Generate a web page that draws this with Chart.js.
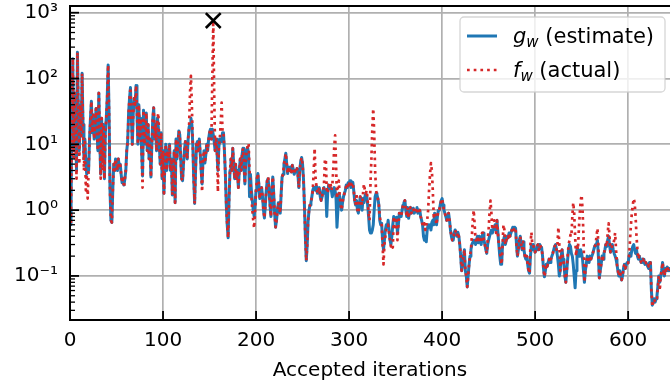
<!DOCTYPE html>
<html>
<head>
<meta charset="utf-8">
<script src="https://cdn.jsdelivr.net/npm/chart.js@4/dist/chart.umd.min.js"></script>
<style>
  html, body { margin: 0; padding: 0; background: #ffffff; }
  #wrap { width: 670px; height: 387px; }
</style>
</head>
<body>
<div id="wrap"><canvas id="chart" width="670" height="387"></canvas></div>
<script>
// Objective per accepted iteration (index = iteration number)
const estimate = [
  15,0.6,40,200,8,60,20,4,250,30,
  8,40,15,120,20,6,12,5,3.5,6,
  4,12,25,45,15,28,12,20,35,15,
  8,60,12,3.5,25,6,20,3,15,25,
  50,160,30,2,0.7,0.65,2,5,4,6,
  5,4,6,4.5,5,3.5,2.6,3,2.4,3,
  4,8,11,30,50,73,25,10,30,50,
  40,78,30,10,40,12,25,8,3.3,33,
  10,16,30,8,20,6,12,3.2,10,25,
  36,12,20,8,25,18,10,5,15,3,
  8,1.8,5,10,4,8,6,10,4,6,
  1.7,4,8,1.3,12,6,10,16,14,6,
  3,2.8,5,8,11,9,6,12,18,20,
  25,20,10,3,1.26,4,10,11,8,12,
  7.3,4,2.5,6,8,5.2,7,10,8,12,
  15,17,12,17,14,11,8,12,8,4,
  9,12,11,11,15,15,8,3.6,1.2,0.6,
  0.38,1.5,4,6,4,8.7,5,3,5,3,
  4,2.2,4,6,4,7,8.7,5,2.5,6,
  8,9,7,1.6,3.5,2,1.4,1.0,0.8,1.2,
  2.0,3.0,3.6,2.5,1.5,1.8,2.2,1.6,1.0,0.76,
  1.2,2.0,2.8,3.0,2.0,1.2,0.8,2.0,3.2,1.8,
  0.9,0.55,0.7,1.0,1.3,1.1,0.9,1.8,3.2,3.5,
  5,6,7.3,5,3.6,4.5,4,4.5,3.8,4.8,
  4.2,3.5,4,3.8,4.3,3.5,2.2,4,5.5,6.3,
  5,3,1.2,0.4,0.17,0.3,0.7,1.0,1.2,1.3,
  1.6,2.0,2.2,2.2,2.0,2.3,1.8,2.0,2.2,1.6,
  1.4,1.6,2.0,2.2,1.8,2.0,0.8,1.8,2.4,2.3,
  2.2,2.0,1.6,2.0,2.2,2.0,1.5,0.55,1.0,1.8,
  1.6,1.2,1.0,1.3,1.6,1.8,2.0,2.4,2.2,2.6,
  2.4,2.8,2.2,2.5,2.65,2.0,1.4,1.2,1.4,1.0,
  0.9,1.2,1.6,1.4,1.0,1.5,1.3,1.6,1.8,1.6,
  1.2,0.8,0.5,0.45,0.45,0.5,0.6,1.0,1.6,1.8,
  1.7,1.5,1.2,0.7,0.6,0.63,0.35,0.25,0.35,0.5,
  0.6,0.55,0.7,0.5,0.35,0.3,0.4,0.6,0.8,0.7,
  0.75,0.78,0.45,0.6,0.9,0.85,0.8,1.0,1.2,1.3,
  1.4,1.0,0.8,1.1,0.75,1.0,1.1,0.9,1.0,1.07,
  0.9,0.95,1.0,1.1,0.9,1.0,1.0,0.8,0.7,0.6,
  0.4,0.35,0.4,0.33,0.5,0.6,0.55,0.6,0.5,0.65,
  0.7,0.6,0.9,0.75,0.6,0.8,1.0,1.0,1.2,1.4,
  1.5,1.2,1.0,0.9,0.8,0.7,0.75,0.9,0.7,0.5,
  0.4,0.35,0.35,0.45,0.5,0.45,0.4,0.46,0.4,0.3,
  0.2,0.12,0.15,0.2,0.25,0.12,0.1,0.068,0.1,0.15,
  0.2,0.25,0.3,0.32,0.35,0.35,0.3,0.35,0.4,0.32,
  0.4,0.35,0.3,0.4,0.45,0.35,0.3,0.25,0.22,0.3,
  0.35,0.4,0.45,0.5,0.45,0.5,0.55,0.6,0.5,0.7,
  0.45,0.3,0.2,0.15,0.15,0.3,0.35,0.4,0.3,0.35,
  0.4,0.38,0.45,0.4,0.45,0.5,0.55,0.5,0.55,0.53,
  0.3,0.2,0.25,0.35,0.4,0.3,0.25,0.33,0.25,0.2,
  0.18,0.2,0.15,0.12,0.11,0.2,0.3,0.25,0.3,0.25,
  0.23,0.25,0.28,0.3,0.25,0.3,0.28,0.27,0.2,0.13,
  0.097,0.12,0.15,0.14,0.16,0.18,0.16,0.18,0.2,0.22,
  0.25,0.28,0.3,0.25,0.2,0.15,0.1,0.12,0.2,0.25,
  0.18,0.15,0.1,0.08,0.12,0.18,0.25,0.3,0.28,0.22,
  0.2,0.15,0.1,0.066,0.12,0.28,0.25,0.2,0.2,0.25,
  0.22,0.18,0.12,0.08,0.12,0.15,0.2,0.18,0.16,0.2,
  0.18,0.2,0.22,0.25,0.28,0.3,0.3,0.35,0.2,0.093,
  0.12,0.15,0.2,0.18,0.22,0.25,0.3,0.28,0.35,0.4,
  0.3,0.23,0.25,0.3,0.25,0.22,0.2,0.18,0.15,0.12,
  0.1,0.12,0.1,0.087,0.1,0.13,0.15,0.13,0.15,0.16,
  0.157,0.2,0.22,0.2,0.25,0.28,0.3,0.25,0.22,0.25,
  0.2,0.18,0.2,0.18,0.16,0.16,0.18,0.17,0.15,0.16,
  0.15,0.14,0.13,0.16,0.16,0.06,0.036,0.04,0.045,0.04,
  0.045,0.05,0.07,0.1,0.08,0.1,0.12,0.16,0.12,0.1,
  0.13,0.12,0.137,0.12,0.13,0.12
];

const actual = [
  15,0.6,40,200,6,60,20,3,250,30,
  5,40,12,120,20,4,12,2,3.5,1.5,
  4,12,25,45,15,28,12,20,35,15,
  8,60,12,3,25,4,20,3,15,25,
  50,160,30,2,0.7,0.65,2,5,4,6,
  5,4,6,4.5,5,3.5,2.6,3,2.2,3,
  4,8,11,30,50,73,25,10,30,50,
  40,78,30,10,40,12,25,8,2.2,33,
  10,16,30,8,20,6,12,3.2,10,25,
  36,12,20,8,25,30,10,5,15,3,
  8,1.8,5,10,4,8,6,10,4,6,
  1.7,4,8,1.3,12,6,10,16,14,6,
  3,2.8,5,8,11,9,6,12,18,60,
  110,40,10,3,1.26,4,10,11,8,12,
  7.3,4,1.9,6,8,5.2,7,10,8,12,
  15,17,12,100,760,60,8,12,8,1.9,
  9,12,20,43,15,15,8,3.6,1.2,0.6,
  0.38,1.5,4,6,4,8.7,5,3,5,3,
  4,2.2,4,6,4,7,8.7,5,2.5,6,
  8,9.5,10.4,4,2.5,1.6,1.0,0.7,0.53,1.0,
  2.0,3.0,3.6,2.5,1.5,1.8,2.2,1.6,1.0,0.76,
  1.2,2.0,2.8,3.2,2.0,1.2,0.8,2.0,3.2,1.8,
  0.9,0.55,0.7,1.0,1.3,1.1,0.9,1.8,3.2,3.5,
  5,6,7.3,5,3.6,4.5,4,4.5,3.8,4.8,
  4.2,3.5,4,3.8,4.3,3.5,2.2,4,5.5,6.3,
  5,3,1.2,0.4,0.17,0.3,0.7,1.0,1.2,1.3,
  1.6,2.0,4,8.7,3,2.3,1.8,2.0,2.2,1.6,
  1.4,1.6,2.0,2.4,5.7,6,2,1.8,2.4,2.3,
  2.6,2.0,2.4,4,9,13.7,5,1.5,2.2,2.8,
  1.6,1.2,1.0,1.3,1.6,1.8,2.0,2.4,2.2,2.6,
  2.4,2.8,2.2,2.5,2.65,2.0,1.4,1.2,1.8,1.0,
  0.9,1.2,1.6,1.4,1.2,1.8,2.5,2.0,1.8,2.0,
  1.4,0.9,0.7,2.5,6,18,35,15,4,2.0,
  1.7,1.5,1.2,0.8,0.65,0.63,0.3,0.15,0.3,0.4,
  0.5,0.55,0.6,0.45,0.35,0.28,0.3,0.27,0.8,0.5,
  0.75,0.78,0.35,0.6,0.9,0.85,0.8,1.0,1.2,1.3,
  1.4,1.0,0.8,1.1,0.75,1.0,1.1,0.9,1.0,1.07,
  0.9,0.95,1.0,1.1,0.9,1.0,1.0,0.8,0.7,0.6,
  0.55,0.63,0.5,0.6,0.7,1.0,2,3.5,5.2,4,
  2,0.8,0.9,0.75,0.6,0.8,1.0,1.0,1.2,1.4,
  1.5,1.2,1.0,0.9,0.8,0.7,0.75,0.9,0.7,0.5,
  0.4,0.35,0.35,0.45,0.5,0.45,0.4,0.46,0.4,0.3,
  0.2,0.12,0.15,0.2,0.25,0.12,0.1,0.068,0.1,0.15,
  0.2,0.25,0.4,0.7,1.0,0.6,0.35,0.35,0.4,0.32,
  0.4,0.35,0.32,0.45,0.45,0.35,0.3,0.25,0.22,0.35,
  0.5,0.9,1.4,0.9,0.5,0.6,0.7,0.65,0.45,0.7,
  0.45,0.3,0.25,0.18,0.15,0.3,0.6,0.5,0.3,0.35,
  0.4,0.38,0.45,0.4,0.45,0.5,0.55,0.5,0.55,0.53,
  0.3,0.2,0.25,0.35,0.4,0.3,0.25,0.33,0.25,0.2,
  0.18,0.2,0.15,0.12,0.11,0.3,0.46,0.3,0.3,0.25,
  0.23,0.25,0.28,0.3,0.25,0.3,0.28,0.27,0.2,0.13,
  0.097,0.12,0.15,0.14,0.16,0.18,0.16,0.18,0.2,0.22,
  0.25,0.28,0.3,0.25,0.3,0.55,0.3,0.12,0.2,0.25,
  0.18,0.15,0.1,0.08,0.12,0.2,0.3,0.35,0.42,0.4,
  0.8,1.3,0.9,0.4,0.2,0.28,0.25,0.5,0.9,1.4,
  1.7,1.0,0.4,0.08,0.12,0.15,0.2,0.18,0.16,0.2,
  0.18,0.2,0.22,0.25,0.28,0.3,0.4,0.53,0.3,0.093,
  0.12,0.15,0.2,0.18,0.22,0.25,0.3,0.28,0.45,0.63,
  0.4,0.23,0.25,0.3,0.3,0.35,0.45,0.25,0.15,0.12,
  0.1,0.12,0.1,0.087,0.1,0.13,0.15,0.13,0.15,0.16,
  0.157,0.2,0.35,0.6,0.9,1.2,1.5,1.3,0.8,0.4,
  0.25,0.18,0.2,0.18,0.16,0.16,0.18,0.17,0.15,0.16,
  0.15,0.16,0.14,0.16,0.16,0.06,0.034,0.04,0.045,0.04,
  0.045,0.046,0.07,0.1,0.06,0.1,0.12,0.16,0.12,0.1,
  0.13,0.12,0.137,0.12,0.13,0.12
];

// Worst actual value, flagged with a cross
const worstIteration = [154];
const worstValue = [760];

const xTickValues = [0, 100, 200, 300, 400, 500, 600];
const yTickValues = [0.1, 1, 10, 100, 1000];
const seriesSymbols = ['g', 'f'];
const seriesNotes = ['(estimate)', '(actual)'];
const seriesSubscript = 'w';

const FONT = '"DejaVu Sans", "Liberation Sans", sans-serif';
const BLUE = '#1f77b4';
const RED = '#d62728';

const toPoints = arr => arr.map((v, i) => ({ x: i, y: v }));

const superDigits = { '-': '⁻', '0': '⁰', '1': '¹', '2': '²', '3': '³', '4': '⁴', '5': '⁵', '6': '⁶', '7': '⁷', '8': '⁸', '9': '⁹' };
const powerLabel = v => '10' + String(Math.round(Math.log10(v))).split('').map(c => superDigits[c]).join('');

function strokeLine(ctx, x1, y1, x2, y2) {
  ctx.beginPath();
  ctx.moveTo(x1, y1);
  ctx.lineTo(x2, y2);
  ctx.stroke();
}

// Inward ticks, spines and the legend box
const axesDecor = {
  id: 'axesDecor',
  afterDatasetsDraw(chart) {
    const { ctx, chartArea: a, scales: { x, y } } = chart;
    ctx.save();
    ctx.strokeStyle = '#000000';
    ctx.lineCap = 'butt';
    ctx.lineWidth = 1.3;
    for (let d = -3; d <= 3; d++) {
      for (let k = 2; k <= 9; k++) {
        const v = k * Math.pow(10, d);
        if (v < y.min || v > y.max) continue;
        const py = y.getPixelForValue(v);
        strokeLine(ctx, a.left, py, a.left + 5, py);
      }
    }
    ctx.lineWidth = 1.8;
    yTickValues.forEach(v => {
      const py = y.getPixelForValue(v);
      strokeLine(ctx, a.left, py, a.left + 9, py);
    });
    xTickValues.forEach(v => {
      const px = x.getPixelForValue(v);
      strokeLine(ctx, px, a.bottom, px, a.bottom - 9);
    });
    ctx.lineWidth = 2;
    strokeLine(ctx, a.left, a.top, a.left, a.bottom);
    strokeLine(ctx, a.left - 1, a.bottom, a.right, a.bottom);
    strokeLine(ctx, a.left - 1, a.top, a.right, a.top);
    ctx.restore();
  },
  afterDraw(chart) {
    const { ctx } = chart;
    const bx = 460, by = 17, bw = 205, bh = 75, r = 4;
    ctx.save();
    ctx.beginPath();
    ctx.roundRect(bx, by, bw, bh, r);
    ctx.fillStyle = 'rgba(255,255,255,0.8)';
    ctx.fill();
    ctx.lineWidth = 1.3;
    ctx.strokeStyle = 'rgba(204,204,204,0.8)';
    ctx.stroke();

    const rows = [36, 70];
    const styles = [
      { color: BLUE, width: 3, dash: [] },
      { color: RED, width: 2.7, dash: [2.7, 4] }
    ];
    rows.forEach((cy, i) => {
      const s = styles[i];
      ctx.strokeStyle = s.color;
      ctx.lineWidth = s.width;
      ctx.setLineDash(s.dash);
      strokeLine(ctx, 467, cy, 497, cy);
      ctx.setLineDash([]);

      ctx.fillStyle = '#000000';
      ctx.textBaseline = 'alphabetic';
      const base = cy + 7;
      let tx = 513;
      ctx.font = 'italic 21px ' + FONT;
      ctx.fillText(seriesSymbols[i], tx, base);
      tx += ctx.measureText(seriesSymbols[i]).width;
      ctx.font = 'italic 15px ' + FONT;
      ctx.fillText(seriesSubscript, tx, base + 4);
      tx += ctx.measureText(seriesSubscript).width;
      ctx.font = '21px ' + FONT;
      ctx.fillText(' ' + seriesNotes[i], tx, base);
    });
    ctx.restore();
  }
};

new Chart(document.getElementById('chart'), {
  type: 'line',
  data: {
    datasets: [
      {
        label: 'worst',
        data: worstIteration.map((it, i) => ({ x: it, y: worstValue[i] })),
        showLine: false,
        pointStyle: 'crossRot',
        pointRadius: 10.5,
        pointBorderWidth: 2.6,
        pointBorderColor: '#000000',
        pointBackgroundColor: '#000000',
        order: 1,
        clip: false
      },
      {
        label: 'f_w (actual)',
        data: toPoints(actual),
        borderColor: RED,
        borderWidth: 2.7,
        borderDash: [2.7, 4],
        borderCapStyle: 'butt',
        borderJoinStyle: 'round',
        pointRadius: 0,
        tension: 0,
        order: 2
      },
      {
        label: 'g_w (estimate)',
        data: toPoints(estimate),
        borderColor: BLUE,
        borderWidth: 3,
        borderJoinStyle: 'round',
        borderCapStyle: 'round',
        pointRadius: 0,
        tension: 0,
        order: 3
      }
    ]
  },
  options: {
    responsive: false,
    animation: false,
    devicePixelRatio: 1,
    layout: { autoPadding: false, padding: { top: 6, right: 0, left: 0, bottom: 0 } },
    plugins: {
      legend: { display: false },
      tooltip: { enabled: false }
    },
    scales: {
      x: {
        type: 'linear',
        min: 0,
        max: 645,
        afterFit: s => { s.height = 67; s.paddingLeft = 0; s.paddingRight = 0; },
        afterBuildTicks: s => { s.ticks = xTickValues.map(v => ({ value: v })); },
        grid: { color: '#b0b0b0', lineWidth: 1.7, drawTicks: false },
        border: { display: false },
        ticks: {
          autoSkip: false,
          maxRotation: 0,
          padding: 9,
          color: '#000000',
          font: { family: FONT, size: 20 }
        },
        title: {
          display: true,
          text: 'Accepted iterations',
          color: '#000000',
          font: { family: FONT, size: 20 },
          padding: { top: 0, bottom: 4 }
        }
      },
      y: {
        type: 'logarithmic',
        min: 0.0214,
        max: 1265,
        afterFit: s => { s.width = 70; s.paddingTop = 0; s.paddingBottom = 0; },
        afterBuildTicks: s => { s.ticks = yTickValues.map(v => ({ value: v, major: true })); },
        grid: { color: '#b0b0b0', lineWidth: 1.7, drawTicks: false },
        border: { display: false },
        ticks: {
          autoSkip: false,
          padding: 12,
          color: '#000000',
          font: { family: FONT, size: 20 },
          callback: v => powerLabel(v)
        }
      }
    }
  },
  plugins: [axesDecor]
});
</script>
</body>
</html>
